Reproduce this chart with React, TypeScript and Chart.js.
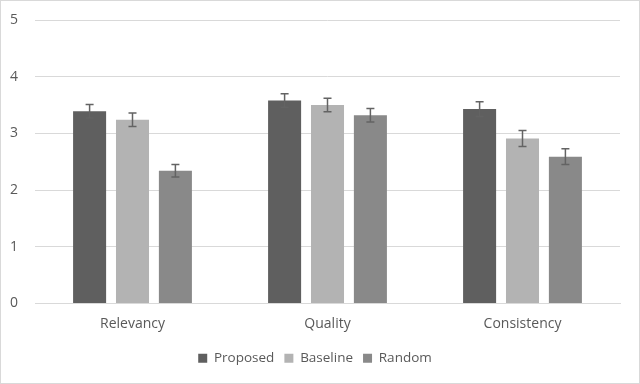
import React, { useEffect, useRef } from "react";
import { Chart, registerables } from "chart.js";

Chart.register(...registerables);

const categories = ["Relevancy", "Quality", "Consistency"];
const seriesNames = ["Proposed", "Baseline", "Random"];
const proposed = [3.39, 3.58, 3.43];
const baseline = [3.24, 3.5, 2.91];
const random = [2.34, 3.32, 2.59];
const proposedErr = [0.12, 0.12, 0.13];
const baselineErr = [0.12, 0.12, 0.14];
const randomErr = [0.11, 0.12, 0.14];
const yTicks = [0, 1, 2, 3, 4, 5];

const colors = ["#5f5f5f", "#b3b3b3", "#898989"];
const FONT = "'Open Sans', 'Liberation Sans', sans-serif";
const TEXT = "#595959";

const errorBars = {
  id: "errorBars",
  afterDatasetsDraw(chart: any) {
    const { ctx } = chart;
    const y = chart.scales.y;
    ctx.save();
    ctx.strokeStyle = "#636363";
    ctx.lineWidth = 1.5;
    chart.data.datasets.forEach((ds: any, i: number) => {
      const meta = chart.getDatasetMeta(i);
      meta.data.forEach((bar: any, j: number) => {
        const v = ds.data[j];
        const e = ds.errors[j];
        const top = y.getPixelForValue(v + e);
        const bot = y.getPixelForValue(v - e);
        const x = bar.x;
        ctx.beginPath();
        ctx.moveTo(x, top);
        ctx.lineTo(x, bot);
        ctx.moveTo(x - 4, top);
        ctx.lineTo(x + 4, top);
        ctx.moveTo(x - 4, bot);
        ctx.lineTo(x + 4, bot);
        ctx.stroke();
      });
    });
    ctx.restore();
  },
};

const frame = {
  id: "frame",
  beforeDraw(chart: any) {
    const { ctx, width, height } = chart;
    ctx.save();
    ctx.fillStyle = "#ffffff";
    ctx.fillRect(0, 0, width, height);
    ctx.strokeStyle = "#d9d9d9";
    ctx.lineWidth = 1;
    ctx.strokeRect(0.5, 0.5, width - 1, height - 1);
    ctx.restore();
  },
};

export default function App() {
  const ref = useRef<HTMLCanvasElement>(null);
  useEffect(() => {
    document.body.style.margin = "0";
    const values = [proposed, baseline, random];
    const errs = [proposedErr, baselineErr, randomErr];
    const chart = new Chart(ref.current!, {
      type: "bar",
      data: {
        labels: categories,
        datasets: seriesNames.map((name, i) => ({
          label: name,
          data: values[i],
          errors: errs[i],
          backgroundColor: colors[i],
          borderWidth: 0,
          categoryPercentage: 0.66,
          barPercentage: 0.77,
        })) as any,
      },
      options: {
        animation: false,
        responsive: false,
        maintainAspectRatio: false,
        layout: { padding: { top: 20, right: 20, bottom: 9, left: 10 } },
        plugins: {
          legend: {
            position: "bottom",
            labels: {
              boxWidth: 9,
              boxHeight: 9,
              padding: 10,
              color: TEXT,
              font: { family: FONT, size: 13.5 },
            },
          },
          tooltip: { enabled: false },
        },
        scales: {
          x: {
            grid: { display: false, drawTicks: false },
            border: { display: true, color: "#d9d9d9", width: 1 },
            ticks: { color: TEXT, font: { family: FONT, size: 14 }, padding: 12 },
            afterFit(scale: any) {
              scale.height = 38;
            },
          },
          y: {
            min: 0,
            max: 5,
            afterBuildTicks(scale: any) {
              scale.ticks = yTicks.map((v) => ({ value: v }));
            },
            grid: { color: "#d9d9d9", drawTicks: false },
            border: { display: false },
            ticks: {
              color: TEXT,
              font: { family: FONT, size: 14 },
              padding: 0,
              crossAlign: "far",
            },
            afterFit(scale: any) {
              scale.width = 25;
            },
          },
        },
      } as any,
      plugins: [frame, errorBars],
    });
    return () => chart.destroy();
  }, []);
  return (
    <div style={{ width: 640, height: 384 }}>
      <canvas ref={ref} width={640} height={384} style={{ display: "block" }} />
    </div>
  );
}
